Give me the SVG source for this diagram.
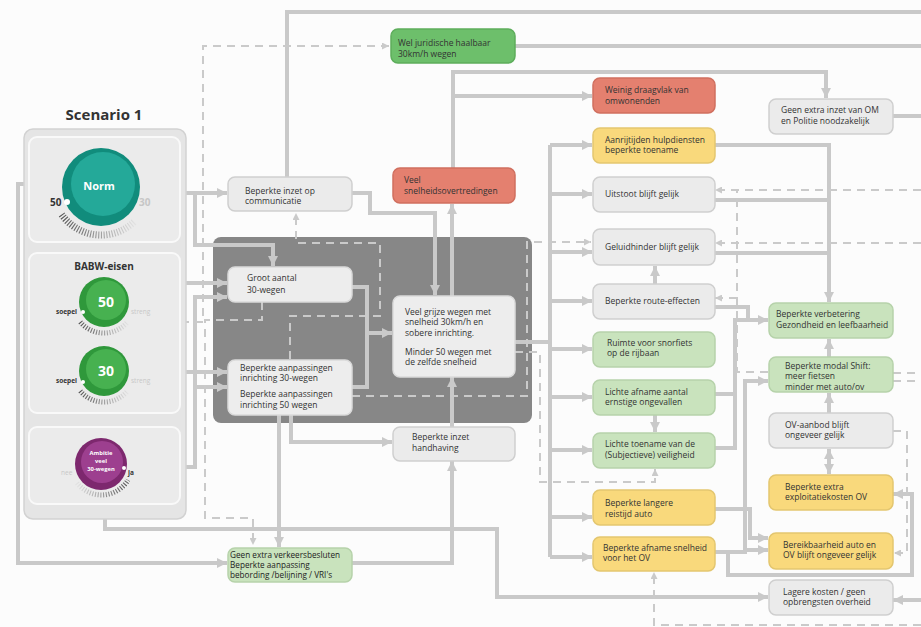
<svg xmlns="http://www.w3.org/2000/svg" width="921" height="627" viewBox="0 0 921 627">
<style>
.c{fill:none;stroke:#c9c9c9;stroke-width:4}
.ca{fill:none;stroke:#c9c9c9;stroke-width:4;marker-end:url(#a)}
.d{fill:none;stroke:#cacaca;stroke-width:2;stroke-dasharray:8 6}
.da{fill:none;stroke:#cacaca;stroke-width:2;stroke-dasharray:8 6;marker-end:url(#b)}
.g{fill:#ebebeb;stroke:#cfcfcf;stroke-width:1.5}
.w{fill:#ededed;stroke:#dadada;stroke-width:1.5}
.y{fill:#f9d97c;stroke:#e3c66f;stroke-width:1.5}
.lg{fill:#c9e3bd;stroke:#b6d2aa;stroke-width:1.5}
.r{fill:#e4806f;stroke:#d06f5f;stroke-width:1.5}
.mg{fill:#6dbf6b;stroke:#5dad5b;stroke-width:1.5}
.card{fill:#ebebeb;stroke:#f9f9f9;stroke-width:2}
text{font-family:"Open Sans","Liberation Sans",sans-serif;font-size:8.5px;fill:#333}
.b{font-weight:bold}
.s{font-size:6.5px;font-weight:bold}
.am{font-size:5.8px;font-weight:bold;fill:#fff}
.wt{fill:#ffffff;font-weight:bold}
.tk{fill:none;stroke-dasharray:1.1 1.6}
</style>
<defs>
<marker id="a" viewBox="0 0 10 10" refX="10" refY="5" markerWidth="10" markerHeight="10" markerUnits="userSpaceOnUse" orient="auto-start-reverse"><path d="M0,0L10,5L0,10z" fill="#c9c9c9"/></marker>
<marker id="b" viewBox="0 0 10 10" refX="10" refY="5" markerWidth="7" markerHeight="7" markerUnits="userSpaceOnUse" orient="auto"><path d="M0,0L10,5L0,10z" fill="#cacaca"/></marker>
<linearGradient id="tg" x1="0" y1="0" x2="1" y2="0"><stop offset="0" stop-color="#555"/><stop offset="1" stop-color="#e2e2e2"/></linearGradient>
<linearGradient id="tgr" x1="0" y1="0" x2="1" y2="0"><stop offset="0" stop-color="#e2e2e2"/><stop offset="1" stop-color="#555"/></linearGradient>
</defs>
<rect x="0" y="0" width="921" height="627" fill="#fcfcfc"/>

<rect id="region" x="213" y="237" width="319" height="186" rx="8" fill="#878787"/>

<g id="connectors">
<path class="ca" d="M181,193H227"/>
<path class="ca" d="M181,193H195V245H273V266"/>
<path class="ca" d="M29,184H18V563H227"/>
<path class="c" d="M287,177V12H921"/>
<path class="ca" d="M352,193H370V213H435V295"/>
<path class="ca" d="M452,296V204"/>
<path class="ca" d="M453,168V72H826V98"/>
<path class="ca" d="M453,96H592"/>
<path class="c" d="M515,46H921"/>
<path class="ca" d="M181,283H227"/>
<path class="ca" d="M181,372H227"/>
<path class="ca" d="M181,467H195V297H227"/>
<path class="ca" d="M195,387H227"/>
<path class="c" d="M352,287H367V387H352"/>
<path class="ca" d="M367,333H392"/>
<path class="ca" d="M279,415V547"/>
<path class="ca" d="M291,415V442H392"/>
<path class="ca" d="M452,427V377"/>
<path class="ca" d="M352,563H452V461"/>
<path class="ca" d="M105,503V529H497V597H768"/>
<path class="c" d="M515,342H550"/>
<path class="c" d="M550,145V557"/>
<path class="ca" d="M550,145H592"/>
<path class="ca" d="M550,194H592"/>
<path class="ca" d="M550,252H592"/>
<path class="ca" d="M550,301H592"/>
<path class="ca" d="M550,349H592"/>
<path class="ca" d="M550,397H592"/>
<path class="ca" d="M550,450H592"/>
<path class="ca" d="M550,517H592"/>
<path class="ca" d="M550,557H592"/>
<path class="ca" d="M714,145H829V302"/>
<path class="c" d="M714,200H829"/>
<path class="c" d="M714,253H829"/>
<path class="ca" d="M714,307H748V320H768"/>
<path class="c" d="M714,394H735"/>
<path class="c" d="M714,448H735V320H748"/>
<path class="ca" d="M655,415V432"/>
<path class="ca" d="M655,284V266"/>
<path class="ca" d="M714,509H750V538H768"/>
<path class="ca" d="M714,552H745V381H768"/>
<path class="ca" d="M745,550H768"/>
<path class="ca" d="M728,552V575H912V494H893"/>
<path class="ca" d="M921,600H893"/>
<path class="c" d="M893,116H921"/>
<path class="ca" d="M829,357V339"/>
<path class="ca" d="M829,413V393"/>
<path class="ca" style="marker-start:url(#a)" d="M829,449V474"/>
<path class="da" d="M181,322H203V46H389"/>
<path class="da" d="M262,302V320H205V518H253V545"/>
<path class="da" d="M290,359V316H380V243H296V213"/>
<path class="da" d="M352,396H527V242H591"/>
<path class="da" d="M515,352H540V482H655V469"/>
<path class="da" d="M921,190H715"/>
<path class="da" d="M921,243H715"/>
<path class="d" d="M768,372H737V190"/>
<path class="da" d="M737,298H715"/>
<path class="d" d="M893,373H921"/>
<path class="d" d="M893,381H921"/>
<path class="da" d="M893,431H907V553H894"/>
<path class="da" d="M921,625H654V572"/>
</g>

<g id="scenario">
<text x="104" y="120" text-anchor="middle" class="b" style="font-size:15px">Scenario 1</text>
<rect x="24" y="129" width="162" height="390" rx="9" fill="#e5e5e5" stroke="#d2d2d2" stroke-width="1.5"/>
</g>

<g id="norm">
<rect class="card" x="29" y="137" width="151" height="105" rx="8"/>
<path class="tk" d="M61.7,214.5A48,48 0 0 0 135,221" stroke="url(#tg)" stroke-width="7"/>
<circle cx="101" cy="187" r="39" fill="#118c7c"/>
<circle cx="103" cy="184" r="32" fill="#24a999"/>
<text x="99" y="190" text-anchor="middle" class="wt" style="font-size:11px">Norm</text>
<circle cx="67" cy="202" r="3" fill="#fff"/>
<text x="50" y="206" class="b" style="font-size:10px">50</text>
<text x="139" y="206" class="b" style="font-size:10px;fill:#c6c6c6">30</text>
</g>

<g id="babw">
<rect class="card" x="29" y="253" width="151" height="160" rx="8"/>
<text x="104" y="270" text-anchor="middle" class="b" style="font-size:10px">BABW-eisen</text>
<path class="tk" d="M80.3,322A31,31 0 0 0 127.7,322" stroke="url(#tg)" stroke-width="5"/>
<circle cx="104" cy="302" r="25" fill="#2f983b"/>
<circle cx="106" cy="300" r="20" fill="#47b150"/>
<text x="106" y="307" text-anchor="middle" class="wt" style="font-size:14px">50</text>
<circle cx="83" cy="312" r="2" fill="#fff"/>
<text x="56" y="314" class="s">soepel</text>
<text x="131" y="314" class="s" style="fill:#c8c8c8;font-weight:normal">streng</text>
<path class="tk" d="M80.3,391A31,31 0 0 0 127.7,391" stroke="url(#tg)" stroke-width="5"/>
<circle cx="104" cy="371" r="25" fill="#2f983b"/>
<circle cx="106" cy="369" r="20" fill="#47b150"/>
<text x="106" y="376" text-anchor="middle" class="wt" style="font-size:14px">30</text>
<circle cx="83" cy="382" r="2" fill="#fff"/>
<text x="56" y="383" class="s">soepel</text>
<text x="131" y="383" class="s" style="fill:#c8c8c8;font-weight:normal">streng</text>
</g>

<g id="ambitie">
<rect class="card" x="29" y="427" width="151" height="77" rx="8"/>
<path class="tk" d="M77,483A31,31 0 0 0 128,480" stroke="url(#tgr)" stroke-width="5"/>
<circle cx="101" cy="464" r="26" fill="#7d286e"/>
<circle cx="102" cy="462" r="21" fill="#9d3f8f"/>
<text x="101" y="455" text-anchor="middle" class="am">Ambitie</text>
<text x="101" y="463" text-anchor="middle" class="am">veel</text>
<text x="101" y="471" text-anchor="middle" class="am">30-wegen</text>
<circle cx="124" cy="468" r="2" fill="#fff"/>
<text x="61" y="475" class="s" style="fill:#c8c8c8;font-weight:normal">nee</text>
<text x="128" y="475" class="s">ja</text>
</g>

<g id="n-communicatie"><rect class="g" x="228" y="177" width="124" height="34" rx="7"/><text x="245" y="194">Beperkte inzet op</text><text x="245" y="204">communicatie</text></g>
<g id="n-juridisch"><rect class="mg" x="391" y="29" width="124" height="34" rx="7"/><text x="398" y="46">Wel juridische haalbaar</text><text x="398" y="57">30km/h wegen</text></g>
<g id="n-snelheid"><rect class="r" x="393" y="168" width="122" height="35" rx="7"/><text x="404" y="183">Veel</text><text x="404" y="194">snelheidsovertredingen</text></g>
<g id="n-groot"><rect class="w" x="228" y="267" width="124" height="35" rx="7"/><text x="247" y="281">Groot aantal</text><text x="247" y="293">30-wegen</text></g>
<g id="n-aanpassingen"><rect class="w" x="228" y="360" width="124" height="55" rx="7"/><text x="240" y="371">Beperkte aanpassingen</text><text x="240" y="381">inrichting 30-wegen</text><text x="240" y="397">Beperkte aanpassingen</text><text x="240" y="408">inrichting 50 wegen</text></g>
<g id="n-grijs"><rect class="w" x="393" y="296" width="122" height="81" rx="7"/><text x="405" y="315">Veel grijze wegen met</text><text x="405" y="325">snelheid 30km/h en</text><text x="405" y="336">sobere inrichting.</text><text x="405" y="355">Minder 50 wegen met</text><text x="405" y="365">de zelfde snelheid</text></g>
<g id="n-handhaving"><rect class="g" x="393" y="427" width="122" height="34" rx="7"/><text x="412" y="440">Beperkte inzet</text><text x="412" y="451">handhaving</text></g>
<g id="n-verkeersbesluiten"><rect class="lg" x="228" y="548" width="124" height="34" rx="7"/><text x="230" y="558" style="fill:#222;font-size:8.2px">Geen extra verkeersbesluten</text><text x="230" y="568" style="fill:#222;font-size:8.2px">Beperkte aanpassing</text><text x="230" y="578" style="fill:#222;font-size:8.2px">bebording /belijning / VRI's</text></g>
<g id="n-draagvlak"><rect class="r" x="593" y="78" width="122" height="35" rx="7"/><text x="605" y="93">Weinig draagvlak van</text><text x="605" y="104">omwonenden</text></g>
<g id="n-om"><rect class="g" x="769" y="99" width="124" height="35" rx="7"/><text x="781" y="113">Geen extra inzet van OM</text><text x="781" y="124">en Politie noodzakelijk</text></g>
<g id="n-aanrijtijden"><rect class="y" x="593" y="128" width="122" height="35" rx="7"/><text x="605" y="143">Aanrijtijden hulpdiensten</text><text x="605" y="153">beperkte toename</text></g>
<g id="n-uitstoot"><rect class="g" x="593" y="177" width="122" height="35" rx="7"/><text x="605" y="197">Uitstoot blijft gelijk</text></g>
<g id="n-geluid"><rect class="g" x="593" y="229" width="122" height="36" rx="7"/><text x="605" y="250">Geluidhinder blijft gelijk</text></g>
<g id="n-route"><rect class="g" x="593" y="284" width="122" height="35" rx="7"/><text x="605" y="304">Beperkte route-effecten</text></g>
<g id="n-snorfiets"><rect class="lg" x="593" y="332" width="122" height="35" rx="7"/><text x="607" y="346">Ruimte voor snorfiets</text><text x="607" y="356">op de rijbaan</text></g>
<g id="n-ongevallen"><rect class="lg" x="593" y="380" width="122" height="35" rx="7"/><text x="605" y="395">Lichte afname aantal</text><text x="605" y="405">ernstige ongevallen</text></g>
<g id="n-veiligheid"><rect class="lg" x="593" y="433" width="122" height="35" rx="7"/><text x="605" y="447">Lichte toename van de</text><text x="605" y="458">(Subjectieve) veiligheid</text></g>
<g id="n-reistijd"><rect class="y" x="593" y="490" width="122" height="35" rx="7"/><text x="605" y="506">Beperkte langere</text><text x="605" y="517">reistijd auto</text></g>
<g id="n-ovsnelheid"><rect class="y" x="593" y="537" width="122" height="34" rx="7"/><text x="603" y="551">Beperkte afname snelheid</text><text x="603" y="561">voor het OV</text></g>
<g id="n-gezondheid"><rect class="lg" x="769" y="303" width="124" height="35" rx="7"/><text x="776" y="317">Beperkte verbetering</text><text x="776" y="328">Gezondheid en leefbaarheid</text></g>
<g id="n-modal"><rect class="lg" x="769" y="357" width="124" height="35" rx="7"/><text x="785" y="369">Beperkte modal Shift:</text><text x="785" y="379">meer fietsen</text><text x="785" y="390">minder met auto/ov</text></g>
<g id="n-ovaanbod"><rect class="g" x="769" y="413" width="124" height="35" rx="7"/><text x="785" y="428">OV-aanbod blijft</text><text x="785" y="438">ongeveer gelijk</text></g>
<g id="n-exploitatie"><rect class="y" x="769" y="475" width="124" height="35" rx="7"/><text x="785" y="490">Beperkte extra</text><text x="785" y="500">exploitatiekosten OV</text></g>
<g id="n-bereikbaarheid"><rect class="y" x="769" y="533" width="124" height="36" rx="7"/><text x="783" y="548">Bereikbaarheid auto en</text><text x="783" y="558">OV blijft ongeveer gelijk</text></g>
<g id="n-kosten"><rect class="g" x="769" y="580" width="124" height="35" rx="7"/><text x="783" y="595">Lagere kosten / geen</text><text x="783" y="605">opbrengsten overheid</text></g>
</svg>
